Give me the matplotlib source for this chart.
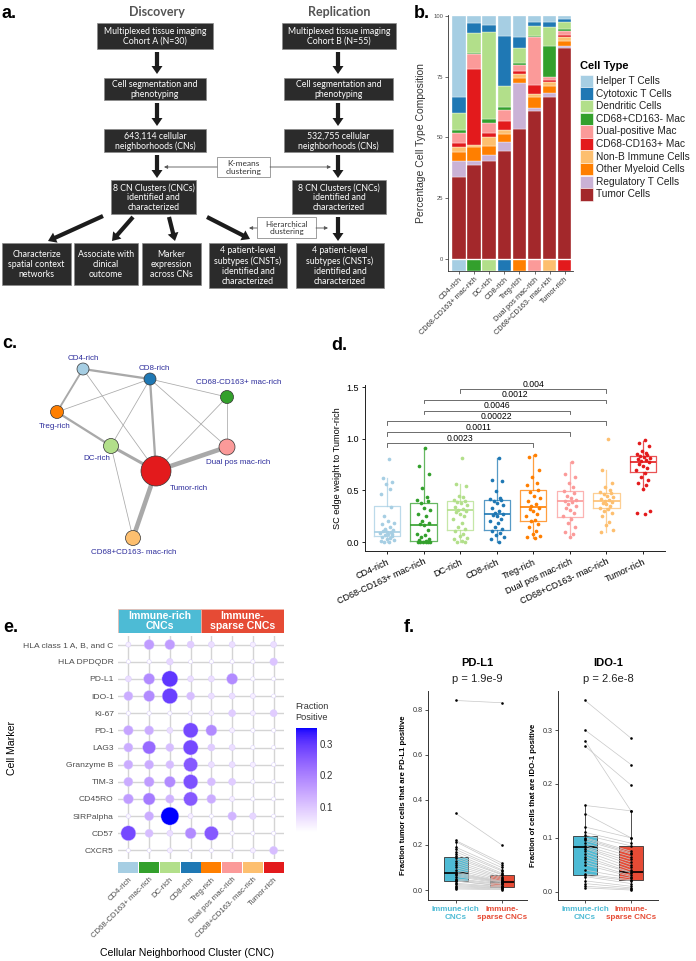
import numpy as np
import matplotlib
matplotlib.use("Agg")
import matplotlib.pyplot as plt
from matplotlib.patches import Rectangle, Circle, FancyArrow
from matplotlib.colors import ListedColormap, Normalize
from matplotlib.cm import ScalarMappable

# ======================= DATA =======================
cnc_labels = ["CD4-rich", "CD68-CD163+ mac-rich", "DC-rich", "CD8-rich",
              "Treg-rich", "Dual pos mac-rich", "CD68+CD163- mac-rich", "Tumor-rich"]
cnc_colors = ["#a6cee3", "#33a02c", "#b2df8a", "#1f78b4",
              "#ff7f00", "#fb9a99", "#fdbf6f", "#e31a1c"]

# ---- panel b: cell type composition (%) per CNC ----
cell_types = ["Helper T Cells", "Cytotoxic T Cells", "Dendritic Cells", "CD68+CD163- Mac",
              "Dual-positive Mac", "CD68-CD163+ Mac", "Non-B Immune Cells",
              "Other Myeloid Cells", "Regulatory T Cells", "Tumor Cells"]
cell_colors = ["#a6cee3", "#1f78b4", "#b2df8a", "#33a02c", "#fb9a99",
               "#e31a1c", "#fdbf6f", "#ff7f00", "#cab2d6", "#a3282b"]
helper_t      = [33.2, 2.7, 3.7, 8.2, 8.8, 2.3, 2.3, 1.4]
cytotoxic_t   = [6.8, 4.4, 2.7, 20.8, 4.5, 1.8, 2.1, 0.9]
dendritic     = [6.8, 8.2, 35.9, 8.3, 5.9, 4.1, 7.9, 3.2]
cd68p_cd163m  = [1.4, 0.3, 1.8, 1.3, 0.9, 0.6, 12.9, 0.5]
dual_pos_mac  = [3.9, 6.2, 4.1, 4.8, 2.5, 19.8, 1.1, 1.8]
cd68m_cd163p  = [2.0, 31.5, 1.7, 3.4, 1.2, 3.7, 0.7, 0.7]
non_b_immune  = [1.7, 0.8, 3.8, 1.7, 1.8, 0.9, 2.0, 1.6]
other_myeloid = [3.8, 5.8, 3.4, 3.3, 2.1, 4.5, 2.8, 2.2]
regulatory_t  = [6.8, 1.6, 2.5, 3.7, 18.9, 1.6, 1.4, 1.0]
tumor_cells   = [33.6, 38.5, 40.4, 44.5, 53.4, 60.7, 66.8, 86.7]

# ---- panel c: spatial context network ----
net_nodes = ["CD4-rich", "CD8-rich", "CD68-CD163+ mac-rich", "Treg-rich",
             "DC-rich", "Dual pos mac-rich", "Tumor-rich", "CD68+CD163- mac-rich"]
net_node_size = [6, 6, 6.5, 6.5, 7.5, 8, 15, 7.5]
net_edges = [("CD4-rich", "CD8-rich", 3), ("CD4-rich", "Treg-rich", 2.5),
             ("CD4-rich", "Tumor-rich", 1), ("CD8-rich", "Treg-rich", 1),
             ("CD8-rich", "DC-rich", 1), ("CD8-rich", "Tumor-rich", 3),
             ("CD8-rich", "Dual pos mac-rich", 1), ("CD8-rich", "CD68-CD163+ mac-rich", 1),
             ("CD68-CD163+ mac-rich", "Tumor-rich", 1),
             ("CD68-CD163+ mac-rich", "Dual pos mac-rich", 1),
             ("Treg-rich", "DC-rich", 3), ("DC-rich", "Tumor-rich", 4),
             ("DC-rich", "CD68+CD163- mac-rich", 1),
             ("Tumor-rich", "Dual pos mac-rich", 6), ("Tumor-rich", "CD68+CD163- mac-rich", 6)]

# ---- panel d: SC edge weight to Tumor-rich ----
d_points = [
    [0.80, 0.62, 0.58, 0.56, 0.51, 0.46, 0.34, 0.25, 0.20, 0.18, 0.17, 0.15, 0.13, 0.12, 0.11,
     0.10, 0.10, 0.09, 0.08, 0.07, 0.06, 0.05, 0.04, 0.03, 0.02, 0.01, 0.00, 0.00, 0.08, 0.12],
    [0.91, 0.74, 0.66, 0.52, 0.44, 0.41, 0.40, 0.38, 0.33, 0.31, 0.27, 0.25, 0.20, 0.18, 0.17,
     0.16, 0.12, 0.08, 0.07, 0.05, 0.03, 0.02, 0.01, 0.00, 0.00, 0.00, 0.00, 0.00, 0.00],
    [0.81, 0.56, 0.54, 0.45, 0.44, 0.41, 0.40, 0.39, 0.38, 0.36, 0.34, 0.32, 0.31, 0.30, 0.29,
     0.27, 0.25, 0.22, 0.18, 0.15, 0.13, 0.11, 0.08, 0.06, 0.04, 0.03, 0.01, 0.00, 0.00],
    [0.81, 0.60, 0.59, 0.49, 0.43, 0.42, 0.41, 0.40, 0.38, 0.36, 0.33, 0.30, 0.28, 0.27, 0.26,
     0.25, 0.22, 0.20, 0.18, 0.15, 0.13, 0.11, 0.09, 0.07, 0.05, 0.03, 0.00],
    [0.84, 0.82, 0.70, 0.63, 0.57, 0.55, 0.50, 0.48, 0.45, 0.43, 0.40, 0.37, 0.35, 0.33, 0.32,
     0.30, 0.27, 0.25, 0.21, 0.20, 0.17, 0.15, 0.11, 0.08, 0.06, 0.05, 0.04],
    [0.77, 0.66, 0.63, 0.57, 0.53, 0.49, 0.47, 0.45, 0.43, 0.41, 0.40, 0.39, 0.37, 0.35, 0.33,
     0.31, 0.28, 0.25, 0.22, 0.18, 0.15, 0.10, 0.08, 0.05],
    [1.00, 0.70, 0.57, 0.53, 0.50, 0.48, 0.47, 0.46, 0.45, 0.44, 0.42, 0.41, 0.40, 0.39, 0.38,
     0.37, 0.35, 0.33, 0.32, 0.30, 0.28, 0.25, 0.19, 0.16, 0.12, 0.10],
    [0.99, 0.96, 0.93, 0.88, 0.86, 0.85, 0.84, 0.83, 0.82, 0.81, 0.80, 0.79, 0.78, 0.77, 0.76,
     0.74, 0.72, 0.70, 0.67, 0.63, 0.60, 0.57, 0.55, 0.51, 0.30, 0.28, 0.27]]
d_q1     = [0.055, 0.005, 0.12, 0.115, 0.20, 0.245, 0.325, 0.68]
d_median = [0.10, 0.165, 0.31, 0.27, 0.335, 0.40, 0.40, 0.775]
d_q3     = [0.35, 0.38, 0.395, 0.41, 0.505, 0.49, 0.475, 0.835]
d_whislo = [0.0, 0.0, 0.0, 0.0, 0.04, 0.05, 0.10, 0.50]
d_whishi = [0.62, 0.91, 0.56, 0.81, 0.84, 0.77, 0.70, 0.98]
d_pvalues = ["0.0023", "0.0011", "0.00022", "0.0046", "0.0012", "0.004"]
d_pair_a = [1, 1, 1, 2, 2, 3]
d_pair_b = [5, 6, 7, 6, 7, 7]

# ---- panel e: fraction positive per marker x CNC ----
markers = ["HLA class 1 A, B, and C", "HLA DPDQDR", "PD-L1", "IDO-1", "Ki-67", "PD-1", "LAG3",
           "Granzyme B", "TIM-3", "CD45RO", "SIRPalpha", "CD57", "CXCR5"]
frac_hla_abc  = [0.044, 0.161, 0.161, 0.091, 0.067, 0.067, 0.044, 0.067]
frac_hla_dr   = [0.020, 0.025, 0.079, 0.020, 0.025, 0.025, 0.025, 0.103]
frac_pdl1     = [0.067, 0.185, 0.303, 0.067, 0.067, 0.185, 0.025, 0.020]
frac_ido1     = [0.138, 0.185, 0.291, 0.114, 0.067, 0.067, 0.044, 0.020]
frac_ki67     = [0.025, 0.025, 0.025, 0.032, 0.044, 0.091, 0.044, 0.091]
frac_pd1      = [0.150, 0.138, 0.067, 0.279, 0.185, 0.044, 0.025, 0.020]
frac_lag3     = [0.138, 0.232, 0.114, 0.279, 0.091, 0.067, 0.025, 0.020]
frac_gzmb     = [0.138, 0.138, 0.114, 0.256, 0.067, 0.067, 0.044, 0.020]
frac_tim3     = [0.138, 0.161, 0.185, 0.268, 0.114, 0.091, 0.025, 0.020]
frac_cd45ro   = [0.161, 0.209, 0.126, 0.256, 0.138, 0.044, 0.022, 0.020]
frac_sirpa    = [0.032, 0.138, 0.350, 0.044, 0.022, 0.126, 0.079, 0.020]
frac_cd57     = [0.279, 0.114, 0.067, 0.185, 0.256, 0.025, 0.022, 0.020]
frac_cxcr5    = [0.020, 0.020, 0.044, 0.020, 0.025, 0.025, 0.044, 0.114]
group_labels = ["Immune-rich\nCNCs", "Immune-\nsparse CNCs"]
group_colors = ["#4DBBD5", "#E64B35"]

# ---- panel f: paired per-patient fractions ----
pdl1_rich = [0.84, 0.34, 0.22, 0.215, 0.19, 0.18, 0.17, 0.16, 0.15, 0.14, 0.13, 0.12, 0.11, 0.10,
             0.09, 0.08, 0.075, 0.07, 0.065, 0.06, 0.05, 0.045, 0.04, 0.04, 0.03, 0.025, 0.02,
             0.015, 0.01, 0.005]
pdl1_sparse = [0.83, 0.20, 0.12, 0.11, 0.10, 0.09, 0.085, 0.075, 0.07, 0.068, 0.06, 0.055, 0.05,
               0.045, 0.04, 0.038, 0.036, 0.035, 0.033, 0.03, 0.028, 0.025, 0.02, 0.018, 0.015,
               0.013, 0.01, 0.008, 0.005, 0.002]
ido1_rich = [0.355, 0.30, 0.28, 0.27, 0.16, 0.145, 0.12, 0.11, 0.105, 0.10, 0.098, 0.095, 0.09,
             0.085, 0.082, 0.08, 0.075, 0.07, 0.065, 0.06, 0.055, 0.05, 0.04, 0.033, 0.03, 0.028,
             0.02, 0.015, 0.01, 0.007]
ido1_sparse = [0.285, 0.236, 0.15, 0.198, 0.15, 0.10, 0.10, 0.09, 0.085, 0.075, 0.072, 0.07,
               0.065, 0.06, 0.055, 0.05, 0.045, 0.04, 0.036, 0.035, 0.03, 0.028, 0.025, 0.022,
               0.02, 0.015, 0.01, 0.007, 0.005, 0.003]
f_q1     = [[0.04, 0.015], [0.031, 0.022]]
f_median = [[0.075, 0.035], [0.082, 0.036]]
f_q3     = [[0.148, 0.068], [0.104, 0.084]]
f_whislo = [[0.003, 0.0], [0.007, 0.003]]
f_whishi = [[0.22, 0.12], [0.16, 0.15]]
f_titles = ["PD-L1", "IDO-1"]
f_pvalues = ["p = 1.9e-9", "p = 2.6e-8"]
f_ylabels = ["Fraction tumor cells that are PD-L1 positive",
             "Fraction of cells that are IDO-1 positive"]

# ======================= FIGURE =======================
W, H = 696, 961
plt.rcParams['font.family'] = ['Liberation Sans', 'DejaVu Sans']
fig = plt.figure(figsize=(W / 100, H / 100), dpi=100)


def px_axes(x0, y0, x1, y1, **kw):
    ax = fig.add_axes([x0 / W, 1 - y1 / H, (x1 - x0) / W, (y1 - y0) / H], **kw)
    ax.set_facecolor('none')
    return ax


ov = px_axes(0, 0, W, H)
ov.set_xlim(0, W)
ov.set_ylim(H, 0)
ov.axis('off')
ov.set_zorder(10)

# panel letters
for lbl, x, y in [("a.", 2, 13), ("b.", 414, 13), ("c.", 2, 343), ("d.", 331, 345),
                  ("e.", 3, 627), ("f.", 404, 628)]:
    ov.text(x, y, lbl, fontsize=13, fontweight='bold', ha='left', va='center')

# ---------------- panel a : flowchart ----------------
DARK = "#2b2b2b"
FLOWFONT = ['Lato', 'DejaVu Sans']


def fbox(x0, y0, x1, y1, text, fc=DARK, tc="white", ec="#8a8a8a", fs=6.3):
    ov.add_patch(Rectangle((x0, y0), x1 - x0, y1 - y0, facecolor=fc, edgecolor=ec, lw=0.5))
    ov.text((x0 + x1) / 2, (y0 + y1) / 2 + 0.5, text, ha='center', va='center', color=tc,
            fontsize=fs, family=FLOWFONT, linespacing=1.12)


def farrow(x0, y0, x1, y1):
    ov.add_patch(FancyArrow(x0, y0, x1 - x0, y1 - y0, width=4.2, head_width=11,
                            head_length=8, length_includes_head=True, color="#1c1c1c", lw=0))


ov.text(157, 12, "Discovery", ha='center', va='center', fontsize=9, fontweight='bold',
        color="#555555", family=FLOWFONT)
ov.text(339, 12, "Replication", ha='center', va='center', fontsize=9, fontweight='bold',
        color="#555555", family=FLOWFONT)

fbox(97, 23, 213, 49, "Multiplexed tissue imaging\nCohort A (N=30)")
fbox(104, 78, 206, 100, "Cell segmentation and\nphenotyping")
fbox(104, 129, 206, 152, "643,114 cellular\nneighborhoods (CNs)")
fbox(111, 180, 196, 214, "8 CN Clusters (CNCs)\nidentified and\ncharacterized")
fbox(2, 243, 71, 285, "Characterize\nspatial context\nnetworks")
fbox(74, 243, 138, 285, "Associate with\nclinical\noutcome")
fbox(142, 243, 201, 285, "Marker\nexpression\nacross CNs")
fbox(209, 243, 287, 288, "4 patient-level\nsubtypes (CNSTs)\nidentified and\ncharacterized")
fbox(282, 23, 396, 49, "Multiplexed tissue imaging\nCohort B (N=55)")
fbox(284, 78, 393, 100, "Cell segmentation and\nphenotyping")
fbox(284, 129, 393, 152, "532,755 cellular\nneighborhoods (CNs)")
fbox(292, 180, 386, 214, "8 CN Clusters (CNCs)\nidentified and\ncharacterized")
fbox(296, 243, 384, 288, "4 patient-level\nsubtypes (CNSTs)\nidentified and\ncharacterized")
fbox(217, 157, 270, 177, "K-means\nclustering", fc="white", tc="#333333", ec="#777777", fs=6.0)
fbox(257, 217, 316, 238, "Hierarchical\nclustering", fc="white", tc="#333333", ec="#777777", fs=5.8)

for xc in (157, 338):
    farrow(xc, 52, xc, 74)
    farrow(xc, 103, xc, 126)
    farrow(xc, 155, xc, 178)
farrow(338, 217, 338, 241)
farrow(103, 216, 48, 241)
farrow(133, 217, 112, 241)
farrow(169, 217, 175, 241)
farrow(207, 217, 250, 239)

thin = dict(arrowstyle='-|>', color="#555555", lw=0.6, mutation_scale=5, shrinkA=0, shrinkB=0)
ov.annotate('', xy=(164, 167), xytext=(217, 167), arrowprops=thin)
ov.annotate('', xy=(331, 167), xytext=(270, 167), arrowprops=thin)
ov.annotate('', xy=(249, 228), xytext=(257, 228), arrowprops=thin)
ov.annotate('', xy=(328, 228), xytext=(316, 228), arrowprops=thin)

# ---------------- panel b : stacked bars ----------------
axb = px_axes(448, 15, 573, 271)
xb = np.arange(1, 9)
stack_vals = [tumor_cells, regulatory_t, other_myeloid, non_b_immune, cd68m_cd163p,
              dual_pos_mac, cd68p_cd163m, dendritic, cytotoxic_t, helper_t]
stack_cols = cell_colors[::-1]
bottom = np.zeros(8)
for vals, col in zip(stack_vals, stack_cols):
    axb.bar(xb, vals, bottom=bottom, width=0.9, color=col, edgecolor='white', lw=0.25)
    bottom += np.array(vals)
axb.bar(xb, 4.5, bottom=-5, width=0.9, color=cnc_colors, edgecolor='white', lw=0.25)
axb.set_xlim(0.27, 8.55)
axb.set_ylim(-5, 100.4)
axb.set_yticks([0, 25, 50, 75, 100])
axb.set_yticklabels(["0", "25", "50", "75", "100"], fontsize=4.2, color="#4d4d4d")
axb.set_xticks(xb)
axb.set_xticklabels(cnc_labels, rotation=45, ha='right', rotation_mode='anchor',
                    fontsize=5.3, color="#333333")
axb.tick_params(length=2, width=0.5, color="#333333", pad=1.5)
for s in ('top', 'right'):
    axb.spines[s].set_visible(False)
for s in ('left', 'bottom'):
    axb.spines[s].set_linewidth(0.6)
    axb.spines[s].set_color("#333333")
axb.set_ylabel("Percentage Cell Type Composition", fontsize=7.5, color="#333333", labelpad=5)

# legend for b
ov.text(580, 66, "Cell Type", fontsize=8, fontweight='bold', ha='left', va='center')
for i, (ct, col) in enumerate(zip(cell_types, cell_colors)):
    yc = 81 + i * 12.6
    ov.add_patch(Rectangle((580, yc - 6.2), 13, 12.4, facecolor=col, edgecolor='white', lw=0.4))
    ov.text(596, yc, ct, fontsize=7.3, ha='left', va='center', color="#222222")

# ---------------- panel c : network ----------------
layout = {"CD4-rich": (83, 369), "CD8-rich": (150, 379), "CD68-CD163+ mac-rich": (227, 397),
          "Treg-rich": (57, 412), "DC-rich": (111, 446), "Dual pos mac-rich": (227, 447),
          "Tumor-rich": (156, 471), "CD68+CD163- mac-rich": (133, 538)}
label_pos = {"CD4-rich": (83, 359), "CD8-rich": (154, 369), "CD68-CD163+ mac-rich": (239, 383),
             "Treg-rich": (55, 426), "DC-rich": (97, 458), "Dual pos mac-rich": (238, 462),
             "Tumor-rich": (189, 489), "CD68+CD163- mac-rich": (134, 553)}
for a, b, w in net_edges:
    (x0, y0), (x1, y1) = layout[a], layout[b]
    ov.plot([x0, x1], [y0, y1], color="#a9a9a9", lw=0.55 * w, solid_capstyle='butt', zorder=2)
node_col = dict(zip(cnc_labels, cnc_colors))
for n, r in zip(net_nodes, net_node_size):
    ov.add_patch(Circle(layout[n], r, facecolor=node_col[n], edgecolor="#333333", lw=0.5, zorder=3))
    lx, ly = label_pos[n]
    ov.text(lx, ly, n, fontsize=5.8, color="#2d2d9c", ha='center', va='center', zorder=4)

# ---------------- panel d : boxplots ----------------
axd = px_axes(365, 385, 665, 551)
offsets = [0.05, -0.12, 0.15, -0.03, 0.09, -0.17, 0.12, -0.08, 0.02, 0.18, -0.14, 0.07, -0.05,
           0.16, -0.10, 0.00, 0.11, -0.19, 0.04, -0.06, 0.14, -0.13, 0.08, -0.01, 0.19, -0.16,
           0.06, -0.09, 0.13, -0.04]
for i in range(8):
    col = cnc_colors[i]
    st = dict(med=d_median[i], q1=d_q1[i], q3=d_q3[i], whislo=d_whislo[i], whishi=d_whishi[i],
              fliers=[])
    axd.bxp([st], positions=[i + 1], widths=0.72, showfliers=False, showcaps=False,
            boxprops=dict(color=col, lw=0.9, alpha=0.75),
            whiskerprops=dict(color=col, lw=0.9, alpha=0.75),
            medianprops=dict(color=col, lw=1.2))
    pts = d_points[i]
    xs = [i + 1 + offsets[k % len(offsets)] for k in range(len(pts))]
    axd.scatter(xs, pts, s=7, color=col, lw=0, zorder=3)
for a, b, p, k in zip(d_pair_a, d_pair_b, d_pvalues, range(6)):
    y = 0.958 + k * 0.1045
    axd.plot([a, a, b, b], [y - 0.035, y, y, y - 0.035], color="#555555", lw=0.6)
    axd.text((a + b) / 2, y + 0.004, p, ha='center', va='bottom', fontsize=6.2)
axd.set_xlim(0.4, 8.6)
axd.set_ylim(-0.087, 1.52)
axd.set_yticks([0, 0.5, 1.0, 1.5])
axd.set_yticklabels(["0.0", "0.5", "1.0", "1.5"], fontsize=6.5)
axd.set_xticks(range(1, 9))
axd.set_xticklabels(cnc_labels, rotation=25, ha='right', rotation_mode='anchor', fontsize=6.5)
axd.tick_params(length=2.5, width=0.6, pad=2)
axd.spines['top'].set_visible(False)
axd.spines['right'].set_visible(False)
for s in ('left', 'bottom'):
    axd.spines[s].set_linewidth(0.7)
    axd.spines[s].set_color("#222222")
axd.set_ylabel("SC edge weight to Tumor-rich", fontsize=6.6, labelpad=3)

# ---------------- panel e : dot plot ----------------
frac = np.array([frac_hla_abc, frac_hla_dr, frac_pdl1, frac_ido1, frac_ki67, frac_pd1, frac_lag3,
                 frac_gzmb, frac_tim3, frac_cd45ro, frac_sirpa, frac_cd57, frac_cxcr5])


def lab_to_rgb(L, a, b):
    fy = (L + 16) / 116
    fx = fy + a / 500
    fz = fy - b / 200
    d = 6 / 29

    def finv(t):
        return np.where(t > d, t ** 3, 3 * d ** 2 * (t - 4 / 29))
    X = 0.95047 * finv(fx)
    Y = finv(fy)
    Z = 1.08883 * finv(fz)
    r = 3.2406 * X - 1.5372 * Y - 0.4986 * Z
    g = -0.9689 * X + 1.8758 * Y + 0.0415 * Z
    bl = 0.0557 * X - 0.2040 * Y + 1.0570 * Z
    rgb = np.clip(np.stack([r, g, bl], -1), 0, None)
    rgb = np.where(rgb <= 0.0031308, 12.92 * rgb, 1.055 * rgb ** (1 / 2.4) - 0.055)
    return np.clip(rgb, 0, 1)


tt = np.linspace(0, 1, 256)
cmap = ListedColormap(lab_to_rgb(100 + (32.30 - 100) * tt, 79.19 * tt, -107.86 * tt))
vmin, vmax = 0.02, 0.35
norm = Normalize(vmin, vmax)

axe = px_axes(118, 636, 284, 859)
axe.set_xlim(0.5, 8.5)
axe.set_ylim(13.5, 0.5)
for k in range(1, 14):
    axe.axhline(k, color="#d4d4d4", lw=1.0, zorder=0)
for k in range(1, 9):
    axe.axvline(k, color="#d4d4d4", lw=1.0, zorder=0)
rows, cols = np.meshgrid(np.arange(1, 14), np.arange(1, 9), indexing='ij')
vals = frac.ravel()
diam_px = 4 + 14 * np.clip((vals - vmin) / (vmax - vmin), 0, 1)
axe.scatter(cols.ravel(), rows.ravel(), s=(diam_px / 1.389) ** 2, c=vals, cmap=cmap, norm=norm,
            edgecolors=(0.85, 0.8, 1.0, 0.9), linewidths=0.35, zorder=3)
axe.set_yticks(range(1, 14))
axe.set_yticklabels(markers, fontsize=6.1, color="#4d4d4d")
axe.set_xticks([])
axe.tick_params(length=0, pad=3)
for s in axe.spines.values():
    s.set_visible(False)
axe.set_ylabel("Cell Marker", fontsize=7.6, labelpad=5)

axh = px_axes(118, 609, 284, 633)
axh.set_xlim(0.5, 8.5)
axh.set_ylim(0, 1)
axh.axis('off')
for (x0, x1), lab, col in zip([(0.5, 4.5), (4.5, 8.5)], group_labels, group_colors):
    axh.add_patch(Rectangle((x0, 0), x1 - x0, 1, facecolor=col, edgecolor="#f2b6a8", lw=0.5))
    axh.text((x0 + x1) / 2, 0.5, lab, ha='center', va='center', color='white', fontsize=7.6,
             fontweight='bold', linespacing=1.0)

axs = px_axes(118, 862, 284, 873)
axs.bar(np.arange(1, 9), 1, width=0.97, color=cnc_colors)
axs.set_xlim(0.5, 8.5)
axs.set_ylim(0, 1)
axs.set_yticks([])
axs.set_xticks(range(1, 9))
axs.set_xticklabels(cnc_labels, rotation=45, ha='right', rotation_mode='anchor',
                    fontsize=5.6, color="#4d4d4d")
axs.tick_params(length=0, pad=2)
for s in axs.spines.values():
    s.set_visible(False)
ov.text(187, 953, "Cellular Neighborhood Cluster (CNC)", fontsize=7.6, ha='center', va='center')

cax = px_axes(296, 728, 317, 832)
cb = fig.colorbar(ScalarMappable(norm=norm, cmap=cmap), cax=cax, ticks=[0.1, 0.2, 0.3])
cb.outline.set_visible(False)
cax.tick_params(length=0, labelsize=7, pad=2, colors="#333333")
cax.set_yticklabels(["0.1", "0.2", "0.3"])
ov.text(295, 712, "Fraction\nPositive", fontsize=6.6, ha='left', va='center', color="#333333",
        linespacing=1.3)

# ---------------- panel f : paired boxplots ----------------
f_boxes = [(428, 527, (0.40, 2.55), (-0.044, 0.882), [0, 0.2, 0.4, 0.6, 0.8],
            pdl1_rich, pdl1_sparse),
           (558, 658, (0.41, 2.59), (-0.0155, 0.3725), [0, 0.1, 0.2, 0.3],
            ido1_rich, ido1_sparse)]
for j, (x0, x1, xl, yl, yt, rich, sparse) in enumerate(f_boxes):
    ax = px_axes(x0, 691, x1, 900)
    stats = [dict(med=f_median[j][g], q1=f_q1[j][g], q3=f_q3[j][g], whislo=f_whislo[j][g],
                  whishi=f_whishi[j][g], fliers=[]) for g in range(2)]
    bp = ax.bxp(stats, positions=[1, 2], widths=0.52, patch_artist=True, showfliers=False,
                showcaps=False, boxprops=dict(lw=0.6, edgecolor="#333333"),
                whiskerprops=dict(color="#333333", lw=0.6),
                medianprops=dict(color="black", lw=1.2))
    for patch, col in zip(bp['boxes'], group_colors):
        patch.set_facecolor(col)
    for r, s in zip(rich, sparse):
        ax.plot([1, 2], [r, s], color="#c8c8c8", lw=0.5, zorder=3)
    ax.scatter([1] * len(rich), rich, s=3.5, color='black', lw=0, zorder=4)
    ax.scatter([2] * len(sparse), sparse, s=3.5, color='black', lw=0, zorder=4)
    ax.set_xlim(*xl)
    ax.set_ylim(*yl)
    ax.set_yticks(yt)
    ax.set_yticklabels([f"{v:.1f}" for v in yt], fontsize=5.2, color="#333333")
    ax.set_xticks([1, 2])
    ax.set_xticklabels(group_labels, fontsize=5.8, fontweight='bold', linespacing=1.25)
    for tl, col in zip(ax.get_xticklabels(), group_colors):
        tl.set_color(col)
    ax.tick_params(length=2, width=0.6, pad=2, color="#333333")
    ax.spines['top'].set_visible(False)
    ax.spines['right'].set_visible(False)
    for s in ('left', 'bottom'):
        ax.spines[s].set_linewidth(0.7)
        ax.spines[s].set_color("#333333")
    ax.set_ylabel(f_ylabels[j], fontsize=5.6, fontweight='bold', labelpad=4)
    xc = (x0 + x1) / 2
    ov.text(xc, 663, f_titles[j], fontsize=8, fontweight='bold', ha='center', va='center')
    ov.text(xc, 679, f_pvalues[j], fontsize=8, ha='center', va='center', color="#222222")

fig.savefig("out.png", dpi=100)
